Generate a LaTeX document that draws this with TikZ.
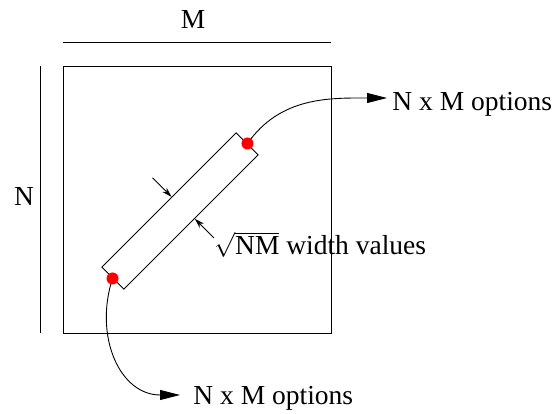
\documentclass[tikz,border=0pt]{standalone}
\usepackage{fontspec}
\setmainfont{Liberation Serif}
\usetikzlibrary{arrows.meta,positioning,calc}

\begin{document}
\begin{tikzpicture}[x=1pt,y=1pt,line width=0.9pt,
  lbl/.style={inner sep=0pt,font=\fontsize{27.5}{30}\selectfont},
  reddot/.style={circle,fill=red,inner sep=0pt,minimum size=12pt},
  bigarrow/.style={-{Triangle[length=20pt,width=10pt]}},
  smallarrow/.style={-{Stealth[length=10pt,width=6pt]}}]
  \useasboundingbox (0,0) rectangle (555,414);
  % square with its two sides
  \node[draw,inner sep=0pt,minimum width=268pt,minimum height=267pt] (grid) at (197,214.5) {};
  \draw ([yshift=23pt]grid.north west) -- ([yshift=23pt]grid.north east);
  \draw ([xshift=-22.5pt]grid.north west) -- ([xshift=-22.5pt]grid.south west);
  \node[lbl] (mlab) at (193,394) {M};
  \node[lbl] (nlab) at (24,217) {N};
  % diagonal band
  \node[draw,fill=white,rotate=45,inner sep=0pt,minimum width=190pt,minimum height=31pt] (band) at (180,203) {};
  % options
  \node[lbl,anchor=base west] (opt1) at (392,303) {N x M options};
  \node[lbl,anchor=base west] (opt2) at (193,9) {N x M options};
  \draw[bigarrow] (band.east) to[out=55,in=180] ([xshift=-5pt,yshift=13pt]opt1.base west);
  \draw[bigarrow] (band.west) to[out=252,in=180,looseness=1.15] ([xshift=-13pt,yshift=10pt]opt2.base west);
  \node[reddot] (d1) at (band.east) {};
  \node[reddot] (d2) at (band.west) {};
  % width of the band
  \coordinate (w1) at ($(band.north)!4pt!(band.north east)$);
  \coordinate (w2) at ($(band.south)!5pt!(band.south east)$);
  \coordinate (w1a) at ($(w1)+(135:27)$);
  \coordinate (w2a) at ($(w2)+(-45:27)$);
  \draw[smallarrow] (w1a) -- (w1);
  \draw[smallarrow] (w2a) -- (w2);
  \node[lbl,anchor=base west] (wlab) at (214,159) {$\sqrt{\mbox{NM}}$ width values};
\end{tikzpicture}
\end{document}
